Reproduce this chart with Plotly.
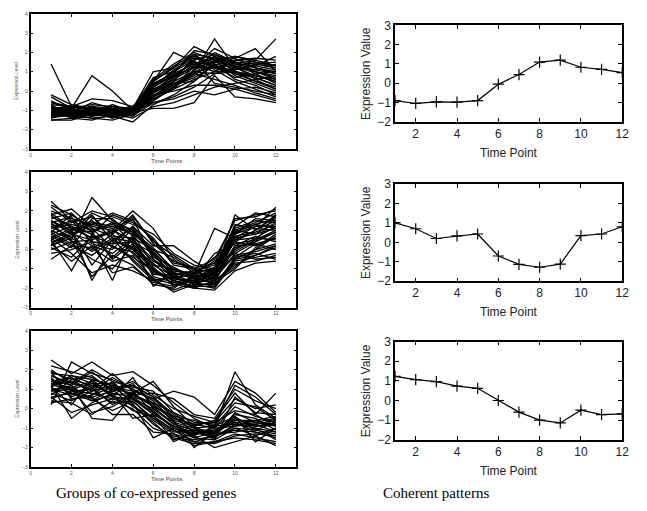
import plotly.graph_objects as go

W, H = 647, 511
time_points = list(range(1, 13))

# Coherent patterns (right column)
pattern_1 = [-0.9, -1.05, -0.97, -0.98, -0.9, -0.05, 0.45, 1.1, 1.2, 0.83, 0.72, 0.55]
pattern_2 = [1.0, 0.7, 0.2, 0.33, 0.43, -0.7, -1.13, -1.28, -1.12, 0.35, 0.43, 0.8]
pattern_3 = [1.23, 1.06, 0.96, 0.73, 0.62, 0.0, -0.59, -1.0, -1.14, -0.49, -0.72, -0.68]

# Groups of co-expressed genes (left column)
group_1 = [
    [1.4,-0.8,-1.0,-1.1,-1.0,0.2,0.8,1.5,1.3,1.0,0.8,0.5],
    [-0.3,-0.9,0.8,0.0,-1.0,-0.5,0.2,1.0,2.7,1.2,1.0,0.8],
    [-0.2,-0.7,-0.9,-1.0,-1.0,-0.3,0.5,1.8,1.5,1.7,2.2,1.0],
    [-1.5,-1.5,-1.2,-1.3,-1.6,-0.7,-0.2,0.5,1.4,1.2,1.6,2.7],
    [-1.0,-1.2,-1.4,-1.5,-1.2,0.5,2.0,1.5,1.0,1.8,1.5,1.2],
    [-0.8,-1.0,-1.0,-1.2,-0.9,1.0,1.2,2.3,1.8,1.4,1.3,1.8],
    [-1.2,-1.1,-1.3,-1.0,-1.1,-0.9,-0.9,-0.6,0.8,-0.3,-0.4,-0.6],
    [-0.9,-0.8,-0.4,-0.5,-0.8,0.0,0.6,1.2,1.8,1.0,0.7,0.3],
    [-1.1,-1.3,-1.0,-0.9,-1.2,-0.2,0.3,0.8,1.6,1.3,1.0,0.6],
    [-1.3,-1.2,-1.1,-1.4,-1.1,-0.4,0.1,1.1,2.0,1.5,1.2,0.9],
    [-0.6,-0.9,-0.7,-0.8,-0.9,0.3,1.0,1.9,1.2,1.1,1.4,1.5],
    [-1.0,-1.1,-0.9,-1.0,-1.0,0.6,1.4,2.0,1.6,0.8,0.4,0.0],
    [-0.7,-1.4,-1.2,-1.1,-0.8,0.1,0.4,0.9,0.6,0.3,-0.1,-0.4],
    [-1.4,-1.0,-0.8,-1.2,-1.3,-0.6,-0.4,0.0,-0.2,0.1,0.2,-0.1],
    [-0.9,-1.2,-1.3,-1.0,-1.0,0.4,0.9,1.4,1.0,1.6,1.7,1.6],
    [-1.1,-0.9,-1.2,-0.7,-1.1,-0.1,0.7,1.6,1.9,1.4,0.9,0.4],
    [-1.2,-1.0,-1.1,-1.3,-0.9,0.2,1.1,1.7,1.4,0.6,0.3,-0.2],
    [-0.8,-1.1,-0.6,-0.9,-1.0,-0.2,0.0,0.3,0.3,0.1,-0.2,-0.5],
    [-1.0,-1.3,-1.0,-1.2,-1.2,-0.5,0.2,1.3,2.2,1.7,1.2,1.0],
    [-1.3,-0.8,-0.9,-1.0,-0.8,0.3,0.8,1.2,1.5,1.3,1.1,1.4],
    [-1.5,-1.4,-1.5,-1.2,-1.4,-0.8,-0.6,-0.2,0.2,0.4,0.6,0.8],
    [-0.9,-1.0,-1.2,-1.1,-1.2,0.0,0.5,1.0,1.2,1.5,1.4,1.2],
    [-1.1,-1.2,-0.9,-1.0,-1.0,0.5,1.2,1.8,1.1,0.5,0.1,-0.3],
    [-0.7,-0.8,-1.0,-1.4,-1.0,-0.3,0.3,0.7,1.3,0.9,0.5,0.2],
    [-1.2,-1.1,-1.2,-0.8,-1.1,0.1,0.6,1.4,1.7,1.2,0.8,0.6],
    [-1.0,-0.9,-1.1,-1.1,-0.9,0.7,1.0,1.6,0.4,0.2,0.0,-0.2],
    [-0.5,-1.0,-0.8,-0.9,-1.0,-0.4,0.1,0.6,1.0,1.1,1.3,1.1],
    [-1.3,-1.3,-1.4,-1.3,-1.2,0.2,0.9,2.1,1.9,1.5,1.0,0.7],
    [-0.9,-1.2,-1.0,-1.1,-1.0,-0.1,0.4,0.5,1.5,1.6,1.5,1.3],
    [-1.1,-1.0,-1.3,-1.2,-1.1,0.4,0.7,1.3,1.2,0.9,0.7,0.3],
    [-1.2,-1.2,-1.0,-0.9,-1.3,-0.3,0.2,0.9,1.8,1.3,0.6,0.1],
    [-0.8,-1.1,-1.2,-1.0,-0.9,0.0,0.8,1.5,1.3,0.7,0.9,1.0],
    [-1.0,-1.4,-1.1,-1.0,-1.1,-0.6,-0.3,0.2,0.9,1.0,0.8,0.5],
    [-1.4,-1.2,-1.1,-1.1,-1.2,0.1,0.3,1.1,1.6,1.8,1.6,1.3],
    [-0.6,-0.8,-0.9,-1.0,-1.0,0.5,1.3,1.9,1.7,1.0,0.5,0.1],
    [-1.1,-1.1,-1.0,-1.0,-1.1,0.0,0.3,1.0,0.9,1.2,1.1,0.9],
]

group_2 = [
    [2.5,1.5,1.0,1.2,0.8,0.0,-1.0,-1.3,-1.5,0.5,1.0,1.8],
    [1.8,2.1,1.2,1.0,2.0,1.1,-0.5,-1.2,-1.0,0.8,1.2,2.2],
    [1.0,0.5,2.7,1.5,1.0,-0.2,-1.5,-1.6,-1.3,1.8,1.0,1.5],
    [-0.5,0.2,-0.3,0.5,0.0,-1.0,-1.8,-2.0,-2.1,-1.1,-0.7,-0.6],
    [0.5,-1.1,0.8,-0.5,0.3,-1.9,-1.2,-1.5,-0.2,0.3,0.5,1.0],
    [1.5,1.0,-1.6,0.2,-0.5,-1.5,-2.2,-1.8,-1.4,0.0,0.6,1.2],
    [0.2,0.8,0.5,-1.6,0.8,-0.8,-1.0,-1.4,-1.8,-0.5,0.0,0.3],
    [2.0,1.6,1.3,1.9,1.5,0.5,-0.8,-1.0,-0.5,1.5,1.8,2.0],
    [0.8,1.2,0.6,1.0,0.5,-0.5,-1.5,-1.7,-1.6,-0.8,-0.3,0.2],
    [1.2,0.6,1.8,0.4,1.2,0.2,0.2,-0.6,-1.2,0.9,1.3,1.6],
    [0.0,0.4,0.0,0.8,-0.2,-1.2,-1.6,-1.9,-1.1,0.4,0.2,0.6],
    [1.6,1.9,0.9,1.4,1.0,-0.3,-1.3,-1.1,-0.8,1.1,1.5,1.4],
    [0.6,-0.2,-1.2,-0.8,-1.1,-1.6,-1.4,-1.8,-2.0,-0.6,-0.4,-0.2],
    [1.3,1.0,1.5,0.6,0.4,-0.6,-1.1,-1.3,1.1,0.6,0.8,1.1],
    [0.3,0.9,0.2,-0.2,0.6,-1.4,-1.7,-1.5,-1.7,-1.0,0.1,0.8],
    [2.2,1.4,2.0,1.7,1.3,0.8,-0.2,-0.8,-1.0,1.2,1.9,1.7],
    [0.9,0.3,-0.5,-1.0,0.2,-0.9,-1.9,-1.6,-1.4,0.2,0.7,0.4],
    [1.1,1.3,1.0,1.3,0.9,-0.1,-1.2,-1.4,-1.3,0.7,0.9,1.3],
    [-0.2,0.0,0.4,0.2,-0.4,-1.1,-1.5,-1.2,-0.6,-0.2,-0.5,-0.4],
    [1.9,1.1,0.6,0.9,1.8,0.3,-0.6,-1.0,-1.6,0.1,0.4,0.9],
    [0.4,0.7,1.3,1.1,0.0,-0.7,-1.7,-1.9,-1.9,-0.4,0.3,0.0],
    [1.4,1.7,0.3,0.0,1.1,-0.4,-0.9,-1.5,-0.9,1.0,1.4,1.9],
    [0.7,0.1,1.6,1.6,0.7,-1.3,-1.3,-1.7,-1.2,0.5,0.6,0.5],
    [1.0,0.5,-1.4,-0.3,-0.8,-1.8,-2.0,-1.3,-1.5,-0.3,-0.1,0.2],
    [2.3,1.8,1.1,0.7,0.6,0.0,-0.4,-1.1,-0.7,1.6,1.7,2.1],
    [0.1,-0.4,0.7,0.3,0.4,-0.2,-1.4,-1.8,-1.8,-0.7,-0.6,-0.3],
    [1.7,1.2,0.8,1.8,1.4,0.6,-0.7,-0.9,-1.1,1.3,1.1,1.0],
    [0.5,1.0,-0.8,0.5,0.1,-1.0,-1.6,-2.0,-1.6,-0.9,0.0,0.7],
    [1.2,1.4,1.7,0.8,1.6,-0.5,-1.2,-1.5,-1.4,0.8,1.6,1.5],
    [0.8,0.2,0.1,-0.6,-0.3,-1.5,-1.8,-1.6,-1.0,-0.1,0.5,0.9],
    [1.5,0.8,1.4,1.2,0.9,0.1,-1.1,-1.2,-1.3,0.6,1.2,1.2],
    [0.2,0.6,-0.1,0.6,-0.6,-1.6,-2.1,-1.7,-1.9,-0.5,-0.3,0.1],
    [1.1,1.5,0.4,0.3,1.2,-0.2,-1.0,-1.4,-1.2,1.0,0.8,1.4],
    [1.8,0.9,1.9,1.4,0.3,-0.8,-1.4,-1.3,-0.4,0.4,1.0,1.7],
    [0.6,1.1,0.9,-0.4,0.5,-1.1,-1.6,-1.9,-1.7,0.2,0.3,0.6],
    [1.4,0.4,0.5,0.9,1.7,0.4,-0.3,-1.0,-1.2,0.9,1.3,1.1],
    [0.9,1.8,1.1,0.1,-0.1,-1.2,-1.5,-1.7,-1.5,-0.2,0.4,1.8],
    [0.3,-0.6,0.2,-1.2,-0.9,-1.7,-1.9,-1.4,-1.1,-0.4,-0.2,-0.5],
]

group_3 = [
    [2.5,1.8,2.4,1.7,1.9,1.2,0.3,-0.5,-1.0,1.9,0.2,-0.5],
    [0.2,2.4,1.8,1.5,1.0,0.5,0.9,0.6,-0.3,1.4,0.8,-0.2],
    [1.2,-0.5,0.3,0.8,-0.5,-0.3,-1.7,-1.2,-1.5,-0.8,-1.0,-1.2],
    [1.5,1.2,-0.5,-0.6,0.7,0.2,-0.6,-2.0,-1.2,-0.5,-0.9,-0.8],
    [0.8,0.4,0.9,1.2,0.3,-1.5,-1.0,-1.4,-2.0,-1.7,-1.4,-1.9],
    [1.9,1.5,1.2,1.0,0.8,1.4,0.1,-0.9,-0.6,0.8,-0.3,0.8],
    [1.0,1.1,1.4,0.6,0.5,0.0,-0.8,-1.1,-1.3,-0.6,-0.7,-0.9],
    [1.3,0.8,0.6,0.9,1.2,0.6,-0.3,-1.0,-0.9,-0.4,-1.7,-1.0],
    [0.5,0.9,1.0,0.3,0.4,-0.6,-1.3,-1.6,-1.4,-1.1,-1.2,-1.5],
    [1.7,1.3,2.0,1.4,1.1,0.9,-0.2,-0.7,-0.8,1.2,0.6,-0.3],
    [1.1,1.6,0.7,1.1,0.9,-0.2,-0.9,-1.3,-1.1,-0.7,-0.8,-0.6],
    [0.6,-0.2,0.2,0.5,0.2,-0.8,-1.5,-1.8,-1.7,-1.3,-1.5,-1.7],
    [1.4,1.0,1.3,1.3,0.6,0.3,-0.5,-0.8,-1.0,0.1,-0.4,-0.7],
    [2.2,1.9,1.6,1.0,1.4,0.7,0.0,-0.4,-0.7,0.5,0.0,0.2],
    [0.9,1.2,0.4,0.7,-0.1,-0.4,-1.1,-1.5,-1.6,-1.0,-1.1,-1.3],
    [1.6,0.6,1.1,0.2,0.8,0.1,-0.4,-1.2,-1.4,-0.9,-0.6,-0.4],
    [1.2,1.4,0.9,1.6,1.0,0.4,-0.7,-1.0,-1.2,-0.3,-0.5,-1.1],
    [0.4,0.3,-0.3,0.4,0.0,-1.0,-1.4,-1.7,-1.8,-1.4,-1.3,-1.4],
    [1.8,1.7,1.5,1.2,0.7,0.8,0.5,-0.3,-0.5,1.0,0.4,0.0],
    [1.0,0.7,1.2,0.8,0.6,-0.1,-1.0,-1.4,-0.9,-0.8,-0.9,-0.8],
    [1.3,1.1,0.5,-0.1,0.4,-0.5,-1.2,-1.1,-1.3,-1.2,-1.0,-1.6],
    [0.7,1.5,1.7,0.9,1.3,0.2,-0.6,-0.9,-1.5,-0.2,-0.7,-0.5],
    [1.5,0.9,0.8,0.5,0.5,-0.3,-0.9,-1.2,-1.1,-0.6,-0.6,-0.9],
    [2.0,1.3,1.0,1.8,0.9,0.5,-0.4,-0.6,-0.9,0.3,0.1,-0.6],
    [0.3,0.5,0.6,-0.3,-0.3,-1.2,-1.3,-1.9,-1.7,-1.5,-1.6,-1.8],
    [1.1,0.2,1.5,0.6,1.6,0.0,-0.7,-1.5,-1.2,-0.4,-1.1,-0.7],
    [1.4,1.6,1.1,1.3,0.2,-0.7,-1.6,-1.3,-1.0,-0.9,-0.8,-1.2],
    [0.9,1.0,-0.2,0.1,0.7,0.3,-0.2,-1.0,-1.6,0.6,-0.2,-0.3],
    [1.7,1.2,1.9,1.1,1.2,0.6,-0.5,-0.8,-0.7,-0.1,-0.3,-0.9],
    [0.6,0.8,0.4,1.0,0.1,-0.4,-1.1,-1.7,-1.4,-1.0,-1.4,-1.0],
    [1.2,1.7,1.3,0.7,0.8,0.1,-0.8,-1.1,-1.3,-0.5,-0.9,-0.7],
    [1.9,0.5,0.7,1.4,0.5,-0.2,-1.0,-1.3,-1.2,-0.7,-1.2,-1.4],
]

left_x_ticks = [0, 2, 4, 6, 8, 10, 12]
left_y_ticks = [-3, -2, -1, 0, 1, 2, 3, 4]
right_x_ticks = [2, 4, 6, 8, 10, 12]
right_y_ticks = [-2, -1, 0, 1, 2, 3]

caption_left = "Groups of co-expressed genes"
caption_right = "Coherent patterns"

fig = go.Figure()

def px_x(p):
    return p / W

def px_y(p):
    return 1 - p / H

left_x_px = (30, 299)
left_y_px = [(7, 146), (170, 309), (333, 473)]
right_x_px = (399, 629)
right_y_px = [(19, 118), (182, 282), (344, 445)]

groups = [group_1, group_2, group_3]
patterns = [pattern_1, pattern_2, pattern_3]

def ann(text, x, y, size, family="Liberation Sans", color="#222", angle=0):
    return dict(text=text, x=px_x(x), y=px_y(y), xref="paper", yref="paper",
                xanchor="center", yanchor="middle", showarrow=False, textangle=angle,
                font=dict(family=family, size=size, color=color))

annotations = []
for i in range(3):
    lx = "x" if i == 0 else f"x{2*i+1}"
    ly = "y" if i == 0 else f"y{2*i+1}"
    rx = f"x{2*i+2}"
    ry = f"y{2*i+2}"
    for g in groups[i]:
        fig.add_trace(go.Scatter(x=time_points, y=g, mode="lines",
                                 line=dict(color="black", width=1.3),
                                 xaxis=lx, yaxis=ly, showlegend=False,
                                 hoverinfo="skip"))
    fig.add_trace(go.Scatter(x=time_points, y=patterns[i], mode="lines+markers",
                             line=dict(color="black", width=1.2),
                             marker=dict(symbol="cross-thin", size=8,
                                         line=dict(color="black", width=1.2)),
                             xaxis=rx, yaxis=ry, showlegend=False))

    lkx = "xaxis" if i == 0 else f"xaxis{2*i+1}"
    lky = "yaxis" if i == 0 else f"yaxis{2*i+1}"
    rkx = f"xaxis{2*i+2}"
    rky = f"yaxis{2*i+2}"
    ly0, ly1 = left_y_px[i]
    ry0, ry1 = right_y_px[i]
    small = dict(family="Liberation Sans", size=5, color="#555")
    big = dict(family="Liberation Sans", size=12, color="#222")
    common = dict(showline=True, linecolor="black", linewidth=1.5, mirror="ticks",
                  showgrid=False, zeroline=False, tickcolor="black", ticks="inside")
    fig.update_layout(**{
        lkx: dict(domain=[px_x(left_x_px[0]), px_x(left_x_px[1])], range=[0, 13],
                  anchor=ly, tickvals=left_x_ticks, ticklen=3, tickfont=small, **common),
        lky: dict(domain=[px_y(ly1), px_y(ly0)], range=[-3, 4],
                  anchor=lx, tickvals=left_y_ticks, ticklen=3, tickfont=small, **common),
        rkx: dict(domain=[px_x(right_x_px[0]), px_x(right_x_px[1])], range=[1, 12],
                  anchor=ry, tickvals=right_x_ticks, ticklen=4, tickfont=big, **common),
        rky: dict(domain=[px_y(ry1), px_y(ry0)], range=[-2, 3],
                  anchor=rx, tickvals=right_y_ticks, ticklen=4, tickfont=big, **common),
    })
    annotations.append(ann("Time Points", 168, ly1 + 12, 6, color="#444"))
    annotations.append(ann("Expression Level", 16, (ly0 + ly1) / 2, 5, color="#555", angle=-90))
    annotations.append(ann("Time Point", 514, ry1 + 32, 12))
    annotations.append(ann("Expression Value", 369, (ry0 + ry1) / 2, 12, angle=-90))

annotations.append(ann(caption_left, 147, 500, 15, family="Liberation Serif", color="black"))
annotations.append(ann(caption_right, 440, 500, 15, family="Liberation Serif", color="black"))

fig.update_layout(width=W, height=H, margin=dict(l=0, r=0, t=0, b=0),
                  paper_bgcolor="white", plot_bgcolor="white",
                  annotations=annotations, showlegend=False)

fig.write_html("out.html")
